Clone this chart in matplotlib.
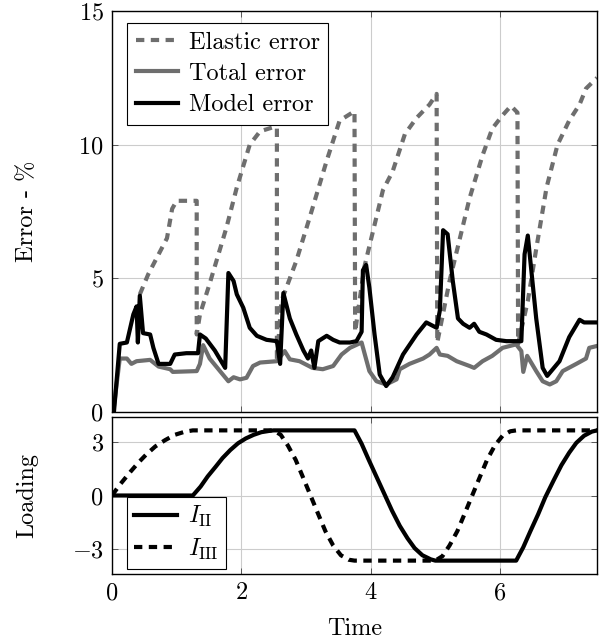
import matplotlib
matplotlib.use("Agg")
import matplotlib.pyplot as plt

plt.rcParams["font.family"] = "serif"
plt.rcParams["font.serif"] = ["cmr10"]
plt.rcParams["mathtext.fontset"] = "cm"
plt.rcParams["axes.formatter.use_mathtext"] = True
plt.rcParams["axes.unicode_minus"] = True

# --- error curves (top panel) ---
elastic_t = [0.43, 0.56, 0.85, 0.93, 1.0, 1.31, 1.31, 1.36, 1.51, 1.77, 1.93, 2.13, 2.29,
             2.49, 2.55, 2.55, 2.62, 2.85, 3.06, 3.32, 3.52, 3.75, 3.76, 3.9, 4.06, 4.19,
             4.34, 4.53, 4.71, 4.91, 5.02, 5.03, 5.22, 5.37, 5.53, 5.73, 5.88, 6.04, 6.17,
             6.27, 6.28, 6.43, 6.56, 6.72, 6.89, 7.07, 7.23, 7.33, 7.5]
elastic_e = [4.4, 5.15, 6.5, 7.6, 7.9, 7.9, 2.9, 3.65, 4.8, 6.9, 8.4, 10.0, 10.5,
             10.65, 10.65, 1.9, 4.15, 5.65, 7.3, 9.4, 10.9, 11.25, 3.0, 5.4, 7.0, 8.3,
             9.0, 10.4, 11.0, 11.5, 11.9, 2.6, 4.9, 6.4, 8.0, 9.6, 10.6, 11.1, 11.45,
             11.2, 2.55, 4.15, 6.1, 8.4, 10.0, 10.9, 11.5, 12.1, 12.5]

total_t = [0.02, 0.12, 0.23, 0.3, 0.38, 0.59, 0.72, 0.9, 0.94, 1.31, 1.36, 1.41, 1.51,
           1.67, 1.8, 1.88, 1.98, 2.08, 2.18, 2.29, 2.55, 2.67, 2.75, 2.9, 3.1, 3.26,
           3.42, 3.55, 3.68, 3.86, 3.91, 3.98, 4.09, 4.24, 4.4, 4.45, 4.6, 4.81, 4.91,
           5.02, 5.07, 5.19, 5.33, 5.53, 5.6, 5.73, 5.88, 6.04, 6.25, 6.33, 6.36, 6.42,
           6.56, 6.66, 6.77, 6.87, 6.97, 7.18, 7.33, 7.38, 7.5]
total_e = [0.0, 2.0, 2.0, 1.8, 1.9, 1.95, 1.7, 1.6, 1.5, 1.53, 1.8, 2.5, 2.0,
           1.53, 1.15, 1.3, 1.22, 1.28, 1.72, 1.85, 1.9, 2.28, 1.97, 1.9, 1.65, 1.6,
           1.72, 2.15, 2.4, 2.6, 2.15, 1.53, 1.15, 1.03, 1.22, 1.6, 1.8, 2.0, 2.15,
           2.4, 2.15, 2.1, 1.9, 1.72, 1.65, 1.9, 2.1, 2.4, 2.53, 2.28, 1.5, 2.1,
           1.53, 1.15, 1.03, 1.15, 1.53, 1.8, 2.0, 2.4, 2.47]

model_t = [0.03, 0.12, 0.23, 0.33, 0.38, 0.4, 0.43, 0.48, 0.59, 0.64, 0.72, 0.9, 0.97,
           1.15, 1.33, 1.36, 1.45, 1.59, 1.75, 1.8, 1.88, 1.93, 2.03, 2.13, 2.24, 2.39,
           2.55, 2.6, 2.65, 2.75, 2.85, 2.96, 3.03, 3.08, 3.13, 3.19, 3.32, 3.42, 3.52,
           3.68, 3.78, 3.86, 3.88, 3.93, 3.98, 4.06, 4.14, 4.24, 4.34, 4.5, 4.71, 4.86,
           5.02, 5.07, 5.12, 5.19, 5.27, 5.35, 5.43, 5.53, 5.6, 5.68, 5.79, 5.94, 6.1,
           6.33, 6.38, 6.43, 6.48, 6.56, 6.66, 6.73, 6.92, 7.07, 7.23, 7.3, 7.5]
model_e = [0.0, 2.55, 2.6, 3.65, 3.95, 2.6, 4.35, 2.95, 2.9, 2.4, 1.8, 1.8, 2.15,
           2.2, 2.2, 2.9, 2.75, 2.3, 1.65, 5.2, 4.9, 4.4, 3.9, 3.15, 2.85, 2.7,
           2.65, 1.8, 4.45, 3.5, 2.9, 2.3, 2.0, 2.3, 1.65, 2.65, 2.85, 2.7, 2.6,
           2.6, 2.65, 3.0, 5.3, 5.5, 4.65, 2.9, 1.4, 0.97, 1.3, 2.15, 2.9, 3.35,
           3.15, 3.8, 6.8, 6.65, 4.9, 3.5, 3.3, 3.15, 3.3, 3.0, 2.9, 2.7, 2.65,
           2.65, 5.9, 6.6, 5.4, 3.5, 1.65, 1.35, 1.9, 2.8, 3.45, 3.35, 3.35]

# --- loading curves (bottom panel) ---
load2_t = [0.0, 1.25, 1.37, 1.48, 1.6, 1.71, 1.83, 1.95, 2.07, 2.19, 2.31, 2.43, 2.5,
           3.75, 3.86, 3.97, 4.09, 4.21, 4.33, 4.45, 4.57, 4.68, 4.8, 4.93, 5.0,
           6.25, 6.36, 6.47, 6.59, 6.7, 6.83, 6.95, 7.07, 7.18, 7.3, 7.42, 7.5]
load2_v = [0.0, 0.0, 0.5, 1.07, 1.6, 2.1, 2.55, 2.93, 3.2, 3.4, 3.55, 3.62, 3.65,
           3.65, 2.9, 2.0, 1.05, 0.1, -0.85, -1.7, -2.4, -2.95, -3.35, -3.58, -3.65,
           -3.65, -2.9, -2.0, -1.05, -0.1, 0.85, 1.7, 2.4, 2.95, 3.35, 3.58, 3.65]

load3_t = [0.0, 0.12, 0.29, 0.41, 0.53, 0.67, 0.82, 0.97, 1.13, 1.25,
           2.5, 2.61, 2.72, 2.84, 2.95, 3.07, 3.19, 3.3, 3.42, 3.54, 3.66, 3.75,
           5.0, 5.11, 5.22, 5.34, 5.45, 5.57, 5.69, 5.8, 5.92, 6.04, 6.16, 6.25, 7.5]
load3_v = [0.0, 0.6, 1.35, 1.85, 2.3, 2.75, 3.1, 3.4, 3.58, 3.65,
           3.65, 3.4, 2.8, 2.0, 1.05, 0.0, -1.05, -2.0, -2.8, -3.35, -3.6, -3.65,
           -3.65, -3.4, -2.8, -2.0, -1.05, 0.0, 1.05, 2.0, 2.8, 3.35, 3.6, 3.65, 3.65]

gray = "#6e6e6e"
lw = 3.0
fs = 17.5
dash = (0, (2.0, 1.55))

W, H = 601, 644
fig = plt.figure(figsize=(W / 100, H / 100), dpi=100)
ax = fig.add_axes([112 / W, 1 - 412 / H, 485 / W, 401 / H])
ax_l = fig.add_axes([112 / W, 1 - 574 / H, 485 / W, 157 / H])

ax.plot(elastic_t, elastic_e, color=gray, lw=lw, ls=dash, label="Elastic error")
ax.plot(total_t, total_e, color=gray, lw=lw, label="Total error")
ax.plot(model_t, model_e, color="black", lw=lw, label="Model error")

ax.set_xlim(0, 7.5)
ax.set_ylim(0, 15)
ax.set_yticks([0, 5, 10, 15])
ax.set_xticks([0, 2, 4, 6])
ax.tick_params(axis="x", labelbottom=False)
ax.set_ylabel("Error - %", fontsize=fs)
leg = ax.legend(loc="upper left", bbox_to_anchor=(15 / 485, 1 - 12 / 401),
                borderaxespad=0, fontsize=fs, framealpha=1, fancybox=False,
                edgecolor="black", handlelength=1.75, borderpad=0.35,
                labelspacing=0.38, handletextpad=0.45)
leg.get_frame().set_linewidth(0.8)

ax_l.plot(load2_t, load2_v, color="black", lw=lw, label=r"$I_{\mathrm{II}}$")
ax_l.plot(load3_t, load3_v, color="black", lw=lw, ls=dash,
          label=r"$I_{\mathrm{III}}$")
ax_l.set_xlim(0, 7.5)
ax_l.set_ylim(-4.4, 4.4)
ax_l.set_yticks([-3, 0, 3])
ax_l.set_xticks([0, 2, 4, 6])
ax_l.set_xlabel("Time", fontsize=fs, labelpad=10)
ax_l.set_ylabel("Loading", fontsize=fs)
leg2 = ax_l.legend(loc="lower left", bbox_to_anchor=(15 / 485, 5 / 157),
                   borderaxespad=0, fontsize=fs, framealpha=1, fancybox=False,
                   edgecolor="black", handlelength=1.75, borderpad=0.3,
                   labelspacing=0.3, handletextpad=0.45)
leg2.get_frame().set_linewidth(0.8)

for a in (ax, ax_l):
    a.grid(True, color="#cccccc", lw=0.8)
    a.set_axisbelow(True)
    a.tick_params(direction="in", top=True, right=True, labelsize=fs,
                  length=4, width=0.6, color="#444444", pad=6)
    a.yaxis.set_label_coords(-0.152, 0.5)
    for s in a.spines.values():
        s.set_linewidth(1.0)

fig.savefig("out.png", dpi=100)
